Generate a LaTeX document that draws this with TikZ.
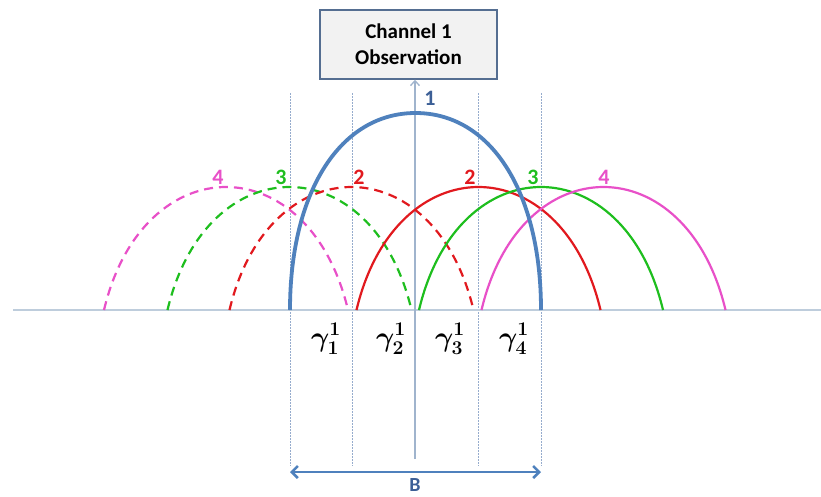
\documentclass[tikz,border=0pt]{standalone}
\usepackage{fontspec}
\setmainfont{Carlito}
\usetikzlibrary{arrows.meta}
\definecolor{cblue}{RGB}{79,129,189}
\definecolor{cblued}{RGB}{60,95,150}
\definecolor{cred}{RGB}{225,25,30}
\definecolor{cgreen}{RGB}{30,190,30}
\definecolor{cmag}{RGB}{232,80,200}
\definecolor{caxis}{RGB}{190,205,220}
\definecolor{cvax}{RGB}{160,180,205}
\definecolor{cdot}{RGB}{150,172,205}
\definecolor{cbox}{RGB}{242,242,242}
\definecolor{cboxb}{RGB}{85,110,145}
\newcommand{\harc}[2]{\draw[#2] (#1-122,310) .. controls (#1-83,146) and (#1+83,146) .. (#1+122,310);}
\tikzset{
  arcline/.style={line width=2.2pt},
  dasharc/.style={line width=2.2pt, dash pattern=on 9pt off 6pt},
  numlbl/.style={font=\fontsize{22}{22}\selectfont\bfseries, inner sep=0pt},
  gamlbl/.style={font=\fontsize{20}{20}\selectfont\boldmath, scale=1.35, inner sep=0pt},
  dotline/.style={cdot, line width=1pt, dash pattern=on 1.5pt off 1.5pt},
}
\begin{document}
\begin{tikzpicture}[x=1pt,y=-1pt]
\useasboundingbox (0,0) rectangle (821,496);
% dotted guides
\foreach \xx in {290,352,478,541} \draw[dotline] (\xx,93) -- (\xx,466);
% horizontal axis
\draw[caxis, line width=2pt] (13,310) -- (821,310);
% box
\node[draw=cboxb, fill=cbox, line width=1.4pt, minimum width=177pt, minimum height=69pt, inner sep=0pt,
      align=center, font=\fontsize{21}{26}\selectfont\bfseries] (obs) at (408.5,44.5) {Channel 1\\Observation};
% vertical axis
\coordinate (vbot) at (415,459);
\draw[cvax, line width=1.3pt, -{Straight Barb[length=5pt,width=9pt]}] (vbot) -- (obs.south -| vbot);
% dashed arcs
\harc{226}{cmag, dasharc}
\harc{289.5}{cgreen, dasharc}
\harc{351.5}{cred, dasharc}
% solid arcs
\harc{478.5}{cred, arcline}
\harc{541}{cgreen, arcline}
\harc{603.5}{cmag, arcline}
% blue arch
\draw[cblue, line width=3.8pt] (290,310) .. controls (290,192) and (340.2,113) .. (415.5,113)
   .. controls (490.8,113) and (541,192) .. (541,310);
% labels
\node[numlbl, text=cblued] (l1) at (430,98) {1};
\node[numlbl, text=cmag] (l4a) at (218,177) {4};
\node[numlbl, text=cgreen] (l3a) at (281,177) {3};
\node[numlbl, text=cred] (l2a) at (359,177) {2};
\node[numlbl, text=cred] (l2b) at (470,177) {2};
\node[numlbl, text=cgreen] (l3b) at (533,177) {3};
\node[numlbl, text=cmag] (l4b) at (604,177) {4};
% gamma labels
\node[gamlbl] (g1) at (326,339) {$\gamma_1^1$};
\node[gamlbl] (g2) at (391,339) {$\gamma_2^1$};
\node[gamlbl] (g3) at (450,339) {$\gamma_3^1$};
\node[gamlbl] (g4) at (514,339) {$\gamma_4^1$};
% bandwidth arrow
\coordinate (bl) at (290,472);
\coordinate (br) at (541,472);
\draw[cblue, line width=2.6pt, {Straight Barb[length=6pt,width=12pt]}-{Straight Barb[length=6pt,width=12pt]}] (bl) -- (br);
\node[numlbl, text=cblued, font=\fontsize{20}{20}\selectfont\bfseries] (B) at (415,485) {B};
\end{tikzpicture}
\end{document}
